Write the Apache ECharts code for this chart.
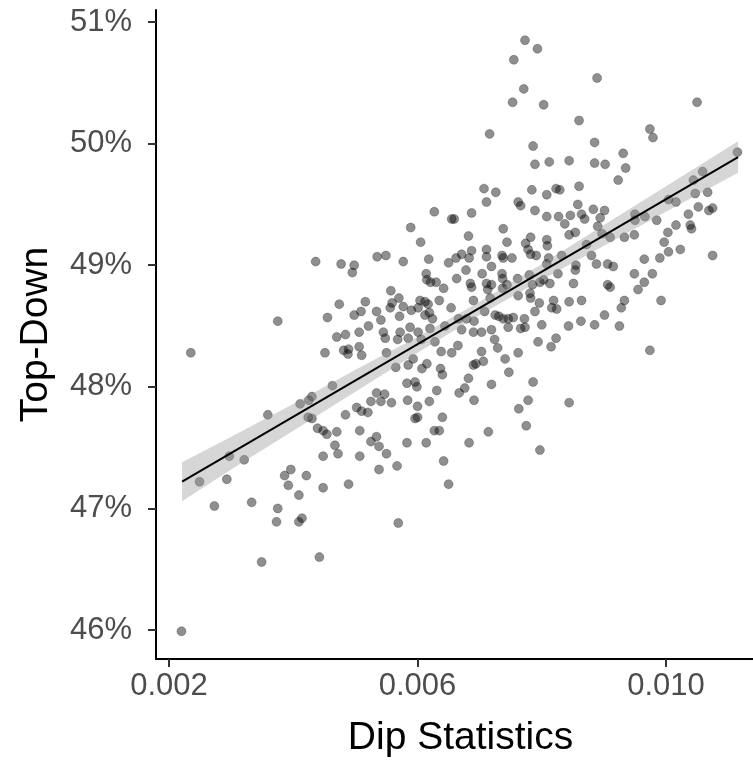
<!DOCTYPE html>
<html>
<head>
<meta charset="utf-8">
<title>Dip Statistics vs Top-Down</title>
<script src="https://cdn.jsdelivr.net/npm/echarts@6/dist/echarts.min.js"></script>
<style>
  html, body { margin: 0; padding: 0; background: #fff; }
  #chart { width: 753px; height: 765px; }
</style>
</head>
<body>
<div id="chart"></div>
<script>
// x values (dip statistic)
var dipStat = [
  0.00773, 0.00793, 0.00755, 0.00771, 0.00753, 0.00803, 0.00716, 0.00786, 0.00789, 0.00812,
  0.00889, 0.01050, 0.00860, 0.00974, 0.00979, 0.00885, 0.00931, 0.01115, 0.00844, 0.00885,
  0.00902, 0.00935, 0.01059, 0.00436, 0.00477, 0.00498, 0.00495, 0.00474, 0.00455, 0.00498,
  0.00375, 0.00707, 0.00726, 0.00784, 0.00808, 0.00711, 0.00762, 0.00766, 0.00789, 0.00808,
  0.00627, 0.00655, 0.00659, 0.00687, 0.00589, 0.00738, 0.00682, 0.00782, 0.00808, 0.00605,
  0.00744, 0.00774, 0.00809, 0.00711, 0.00778, 0.00782, 0.00791, 0.00671, 0.00687, 0.00535,
  0.00549, 0.00577, 0.00618, 0.00662, 0.00650, 0.00683, 0.00711, 0.00736, 0.00738, 0.00752,
  0.00811, 0.00808, 0.00719, 0.00678, 0.00614, 0.00704, 0.00736, 0.00737, 0.00761, 0.00780,
  0.00785, 0.00797, 0.00803, 0.00813, 0.00615, 0.00621, 0.00630, 0.00642, 0.00663, 0.00685,
  0.00687, 0.00711, 0.00719, 0.00713, 0.00737, 0.00744, 0.00557, 0.00570, 0.00604, 0.00612,
  0.00617, 0.00635, 0.00690, 0.00717, 0.00762, 0.00781, 0.00782, 0.00796, 0.00819, 0.00516,
  0.00509, 0.00534, 0.00541, 0.00556, 0.00559, 0.00577, 0.00590, 0.00571, 0.00601, 0.00612,
  0.00619, 0.00624, 0.00654, 0.00666, 0.00679, 0.00691, 0.00708, 0.00725, 0.00731, 0.00738,
  0.00746, 0.00754, 0.00772, 0.00789, 0.00816, 0.00746, 0.00766, 0.00773, 0.00521, 0.00506,
  0.00545, 0.00572, 0.00588, 0.00601, 0.00620, 0.00644, 0.00671, 0.00690, 0.00703, 0.00719,
  0.00800, 0.00923, 0.00823, 0.00829, 0.00860, 0.01044, 0.01047, 0.01067, 0.01004, 0.01016,
  0.01052, 0.01069, 0.01075, 0.00858, 0.00883, 0.00901, 0.00827, 0.00846, 0.00864, 0.00869,
  0.00894, 0.00950, 0.00950, 0.00966, 0.00985, 0.01036, 0.01039, 0.01041, 0.01016, 0.00837,
  0.00844, 0.00854, 0.00890, 0.00897, 0.00910, 0.00949, 0.00933, 0.01003, 0.00997, 0.00872,
  0.00832, 0.00880, 0.00888, 0.00906, 0.00915, 0.00965, 0.00990, 0.01004, 0.01023, 0.01075,
  0.00855, 0.00854, 0.00826, 0.00949, 0.00978, 0.00965, 0.00955, 0.00906, 0.00910, 0.00851,
  0.00933, 0.00928, 0.00992, 0.00844, 0.00864, 0.00824, 0.00901, 0.00863, 0.00843, 0.00885,
  0.00925, 0.00470, 0.00484, 0.00235, 0.00451, 0.00481, 0.00489, 0.00488, 0.00463, 0.00430,
  0.00425, 0.00411, 0.00359, 0.00424, 0.00430, 0.00484, 0.00439, 0.00448, 0.00454, 0.00470,
  0.00467, 0.00472, 0.00448, 0.00297, 0.00321, 0.00396, 0.00386, 0.00392, 0.00421, 0.00249,
  0.00293, 0.00448, 0.00489, 0.00409, 0.00548, 0.00568, 0.00585, 0.00606, 0.00506, 0.00510,
  0.00550, 0.00593, 0.00585, 0.00565, 0.00607, 0.00615, 0.00637, 0.00640, 0.00628, 0.00638,
  0.00655, 0.00665, 0.00703, 0.00706, 0.00690, 0.00694, 0.00724, 0.00729, 0.00741, 0.00747,
  0.00762, 0.00794, 0.00815, 0.00682, 0.00583, 0.00596, 0.00599, 0.00631, 0.00667, 0.00676,
  0.00719, 0.00786, 0.00534, 0.00547, 0.00525, 0.00541, 0.00558, 0.00584, 0.00600, 0.00619,
  0.00691, 0.00778, 0.00763, 0.00502, 0.00510, 0.00520, 0.00596, 0.00600, 0.00640, 0.00627,
  0.00635, 0.00775, 0.00714, 0.00507, 0.00525, 0.00534, 0.00538, 0.00550, 0.00583, 0.00614,
  0.00683, 0.00797, 0.00507, 0.00538, 0.00567, 0.00642, 0.00650, 0.00823, 0.00974, 0.00844,
  0.00273, 0.00333, 0.00375, 0.00373, 0.00409, 0.00414, 0.00349, 0.00442, 0.00220, 0.00569
];
// y values (top-down share, in percent)
var topDown = [
  50.85, 50.78, 50.69, 50.45, 50.34, 50.32, 50.08, 49.98, 49.83, 49.85,
  50.54, 50.34, 50.19, 50.12, 50.05, 50.01, 49.92, 49.93, 49.86, 49.84,
  49.83, 49.80, 49.77, 49.03, 49.01, 49.00, 48.94, 48.68, 48.57, 48.59,
  48.54, 49.63, 49.60, 49.62, 49.58, 49.52, 49.52, 49.49, 49.45, 49.40,
  49.44, 49.38, 49.38, 49.43, 49.31, 49.30, 49.24, 49.23, 49.21, 49.19,
  49.19, 49.18, 49.16, 49.13, 49.13, 49.09, 49.08, 49.09, 49.12, 49.07,
  49.08, 49.03, 49.05, 49.06, 49.02, 49.06, 49.07, 49.08, 49.06, 49.06,
  49.06, 49.01, 48.99, 48.96, 48.93, 48.93, 48.93, 48.89, 48.89, 48.92,
  48.84, 48.86, 48.88, 48.85, 48.88, 48.86, 48.86, 48.81, 48.89, 48.85,
  48.82, 48.85, 48.84, 48.80, 48.81, 48.84, 48.79, 48.73, 48.71, 48.70,
  48.68, 48.71, 48.71, 48.73, 48.75, 48.77, 48.73, 48.69, 48.71, 48.70,
  48.62, 48.62, 48.55, 48.65, 48.69, 48.66, 48.63, 48.58, 48.65, 48.59,
  48.61, 48.56, 48.65, 48.56, 48.56, 48.54, 48.62, 48.59, 48.58, 48.56,
  48.56, 48.57, 48.56, 48.62, 48.65, 48.49, 48.48, 48.49, 48.50, 48.45,
  48.45, 48.45, 48.49, 48.45, 48.48, 48.50, 48.47, 48.45, 48.45, 48.47,
  48.51, 49.70, 49.63, 49.62, 49.65, 49.70, 49.59, 49.60, 49.54, 49.52,
  49.48, 49.45, 49.47, 49.50, 49.46, 49.45, 49.40, 49.41, 49.42, 49.38,
  49.39, 49.42, 49.37, 49.40, 49.37, 49.42, 49.33, 49.30, 49.33, 49.34,
  49.25, 49.27, 49.32, 49.26, 49.23, 49.25, 49.23, 49.27, 49.19, 49.17,
  49.08, 49.08, 49.01, 49.01, 48.99, 49.05, 49.06, 49.11, 49.13, 49.08,
  49.00, 48.96, 48.93, 48.93, 48.93, 48.86, 48.80, 48.84, 48.82, 48.85,
  48.71, 48.65, 48.71, 48.70, 48.71, 48.64, 48.59, 48.54, 48.50, 48.51,
  48.50, 48.41, 48.43, 48.28, 48.28, 48.30, 48.31, 48.27, 48.01, 47.92,
  47.89, 47.86, 47.77, 47.75, 47.74, 47.77, 47.66, 47.64, 47.61, 47.63,
  47.52, 47.45, 47.43, 47.43, 47.40, 47.32, 47.27, 47.19, 47.27, 47.22,
  47.24, 47.17, 47.20, 47.11, 48.40, 48.39, 48.40, 48.39, 48.33, 48.26,
  48.28, 48.23, 48.18, 48.16, 48.15, 48.19, 48.15, 48.10, 48.37, 48.29,
  48.28, 48.34, 48.29, 48.21, 48.18, 48.19, 48.39, 48.32, 48.23, 48.12,
  48.28, 48.37, 48.33, 48.07, 48.03, 48.04, 48.00, 47.97, 47.95, 47.99,
  48.02, 48.04, 47.95, 47.94, 47.88, 47.88, 47.87, 47.89, 47.84, 47.88,
  47.89, 47.89, 47.82, 47.83, 47.80, 47.79, 47.74, 47.75, 47.75, 47.64,
  47.64, 47.68, 47.63, 47.64, 47.55, 47.59, 47.51, 47.45, 47.54, 47.54,
  47.54, 47.48, 47.43, 47.32, 47.35, 47.39, 47.20, 48.40, 48.30, 47.87,
  47.02, 47.05, 47.00, 46.89, 46.89, 46.92, 46.56, 46.60, 45.99, 46.88
];

// fitted line ends and confidence band
var fitX = [0.00221, 0.01116];
var fitY = [47.22, 49.89];
var bandX = [0.00221, 0.003, 0.004, 0.005, 0.006, 0.007, 0.008, 0.009, 0.010, 0.01116];
var bandLow = [47.06, 47.32, 47.64, 47.96, 48.28, 48.59, 48.88, 49.16, 49.44, 49.76];
var bandHigh = [47.38, 47.59, 47.86, 48.14, 48.41, 48.70, 49.01, 49.33, 49.65, 50.02];

var xTicks = [0.002, 0.006, 0.010];
var yTicks = [46, 47, 48, 49, 50, 51];

var points = dipStat.map(function (x, i) { return [x, topDown[i]]; });
var fitLine = fitX.map(function (x, i) { return [x, fitY[i]]; });

var font = '"Liberation Sans", Arial, Helvetica, sans-serif';
var chart = echarts.init(document.getElementById('chart'));

chart.setOption({
  animation: false,
  backgroundColor: '#fff',
  grid: { left: 156, right: 0, top: 10, bottom: 106 },
  xAxis: {
    type: 'value',
    min: 0.00179,
    max: 0.0114,
    name: 'Dip Statistics',
    nameLocation: 'middle',
    nameGap: 60,
    nameTextStyle: { fontFamily: font, fontSize: 39, color: '#000', padding: [0, 0, 0, 12] },
    axisLine: { show: true, lineStyle: { color: '#000', width: 2 } },
    axisTick: { show: true, customValues: xTicks, length: 8, lineStyle: { color: '#333', width: 2 } },
    axisLabel: {
      customValues: xTicks,
      margin: 12,
      fontFamily: font, fontSize: 31, color: '#4d4d4d',
      formatter: function (v) { return v.toFixed(3); }
    },
    splitLine: { show: false }
  },
  yAxis: {
    type: 'value',
    min: 45.762,
    max: 51.099,
    name: 'Top-Down',
    nameLocation: 'middle',
    nameGap: 100,
    nameTextStyle: { fontFamily: font, fontSize: 39, color: '#000' },
    axisLine: { show: true, lineStyle: { color: '#000', width: 2 } },
    axisTick: { show: true, customValues: yTicks, length: 8, lineStyle: { color: '#333', width: 2 } },
    axisLabel: {
      customValues: yTicks,
      margin: 24,
      fontFamily: font, fontSize: 31, color: '#4d4d4d',
      formatter: function (v) { return v + '%'; }
    },
    splitLine: { show: false }
  },
  series: [
    {
      type: 'scatter',
      data: points,
      symbolSize: 9,
      itemStyle: { color: 'rgba(0,0,0,0.55)', borderColor: 'rgba(0,0,0,0.3)', borderWidth: 1 },
      z: 2
    },
    {
      type: 'custom',
      data: [0],
      z: 3,
      silent: true,
      renderItem: function (params, api) {
        var pts = [];
        for (var i = 0; i < bandX.length; i++) pts.push(api.coord([bandX[i], bandHigh[i]]));
        for (var j = bandX.length - 1; j >= 0; j--) pts.push(api.coord([bandX[j], bandLow[j]]));
        return {
          type: 'polygon',
          shape: { points: pts },
          style: { fill: 'rgba(153,153,153,0.4)' }
        };
      }
    },
    {
      type: 'line',
      data: fitLine,
      symbol: 'none',
      lineStyle: { color: '#000', width: 2 },
      z: 4,
      silent: true
    }
  ]
});
</script>
</body>
</html>
